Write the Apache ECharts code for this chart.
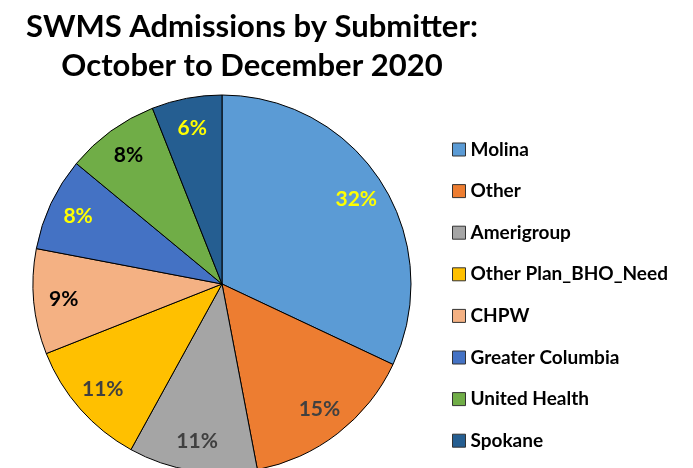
<!DOCTYPE html>
<html>
<head>
<meta charset="utf-8">
<script src="https://cdn.jsdelivr.net/npm/echarts@6/dist/echarts.min.js"></script>
<style>
  html, body { margin: 0; padding: 0; background: #fff; }
  #chart { width: 693px; height: 468px; }
</style>
</head>
<body>
<div id="chart"></div>
<script>
// submitters, clockwise from 12 o'clock
var names = ['Molina', 'Other', 'Amerigroup', 'Other Plan_BHO_Need', 'CHPW', 'Greater Columbia', 'United Health', 'Spokane'];
var shares = [32, 15, 11, 11, 9, 8, 8, 6];
var colors = ['#5B9BD5', '#ED7D31', '#A5A5A5', '#FFC000', '#F4B183', '#4472C4', '#70AD47', '#255E91'];
var labelColors = ['#FFFF00', '#404040', '#404040', '#404040', '#000000', '#FFFF00', '#000000', '#FFFF00'];

var chart = echarts.init(document.getElementById('chart'));

var pieData = names.map(function (n, i) {
    return { name: n, value: shares[i], itemStyle: { color: colors[i] } };
});
// same slices, transparent and bigger, only used to place the % labels further out
var labelData = names.map(function (n, i) {
    return {
        name: n, value: shares[i],
        label: { color: labelColors[i] }
    };
});

var option = {
    animation: false,
    title: {
        text: 'SWMS Admissions by Submitter:\nOctober to December 2020',
        left: 247,
        textAlign: 'center',
        top: 2,
        textStyle: {
            fontFamily: 'Lato',
            fontWeight: 'bold',
            fontSize: 31,
            lineHeight: 39,
            color: '#000'
        }
    },
    legend: {
        orient: 'vertical',
        left: 452,
        top: 140,
        padding: 0,
        itemWidth: 13,
        itemHeight: 13,
        itemGap: 22.6,
        icon: 'rect',
        itemStyle: { borderColor: '#333', borderWidth: 1 },
        textStyle: {
            fontFamily: 'Lato',
            fontWeight: 'bold',
            fontSize: 19,
            color: '#000',
            padding: [0, 0, 0, 0]
        },
        data: names
    },
    series: [
        {
            type: 'pie',
            center: [222, 284],
            radius: 189,
            startAngle: 90,
            clockwise: true,
            silent: true,
            label: { show: false },
            labelLine: { show: false },
            itemStyle: { borderColor: '#000', borderWidth: 1 },
            data: pieData
        },
        {
            type: 'pie',
            center: [222, 284],
            radius: 312,
            startAngle: 90,
            clockwise: true,
            silent: true,
            itemStyle: { color: 'rgba(0,0,0,0)', borderWidth: 0 },
            label: {
                show: true,
                position: 'inside',
                formatter: '{c}%',
                fontFamily: 'Lato',
                fontWeight: 'bold',
                fontSize: 21
            },
            labelLine: { show: false },
            data: labelData
        }
    ]
};
chart.setOption(option);
</script>
</body>
</html>
